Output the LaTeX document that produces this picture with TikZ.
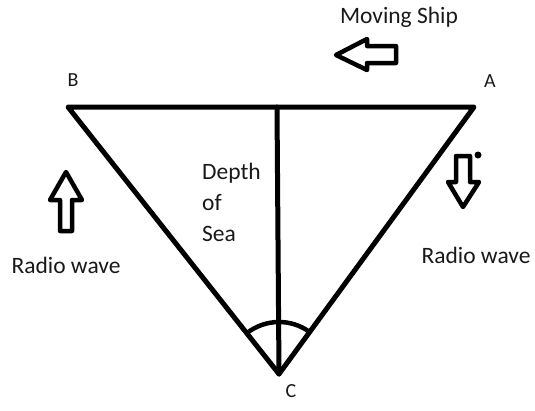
\documentclass[tikz,border=0pt]{standalone}
\usepackage{fontspec}
\setmainfont{Carlito}
\begin{document}
\begin{tikzpicture}[x=1pt,y=-1pt,
  edge/.style={line width=5pt,line cap=round,line join=round},
  hollow/.style={line width=4.5pt,line join=round,fill=white},
  lbl/.style={font=\fontsize{23.5}{31}\selectfont,text=black!90,inner sep=0pt},
  vtx/.style={font=\fontsize{20}{20}\selectfont,text=black!90,inner sep=0pt}]
\useasboundingbox (0,0) rectangle (535,410);
\coordinate (B) at (68,107);
\coordinate (A) at (474,107);
\coordinate (C) at (279,374);
\coordinate (D) at (277,107);
% triangle
\draw[edge] (B) -- (A) -- (C) -- cycle;
\draw[edge] (D) -- (C);
% angle arc
\draw[line width=4.5pt] ([shift={(-128:52)}]C) arc[start angle=-128,end angle=-54,radius=52];
% labels
\node[vtx] (lB) at (73,80) {B};
\node[vtx] (lA) at (490,81) {A};
\node[vtx] (lC) at (291,391) {C};
\node[lbl,align=left,anchor=north west] (depth) at (202,163) {Depth\\of\\Sea};
\node[lbl] (ship) at (399,17) {Moving Ship};
\node[lbl] (rwL) at (66,265) {Radio wave};
\node[lbl] (rwR) at (476,255) {Radio wave};
% ship arrow (left)
\draw[hollow] (336,55) -- (367,39) -- (367,46) -- (396,46) -- (396,63) -- (367,63) -- (367,70) -- cycle;
% left up arrow
\draw[hollow] (66,172) -- (82,200) -- (72,200) -- (72,231) -- (60,231) -- (60,200) -- (50,200) -- cycle;
% right down arrow
\draw[hollow] (463,207) -- (479,182) -- (470,182) -- (470,156) -- (456,156) -- (456,182) -- (448,182) -- cycle;
\fill (478,155) circle (3.5);
\end{tikzpicture}
\end{document}
